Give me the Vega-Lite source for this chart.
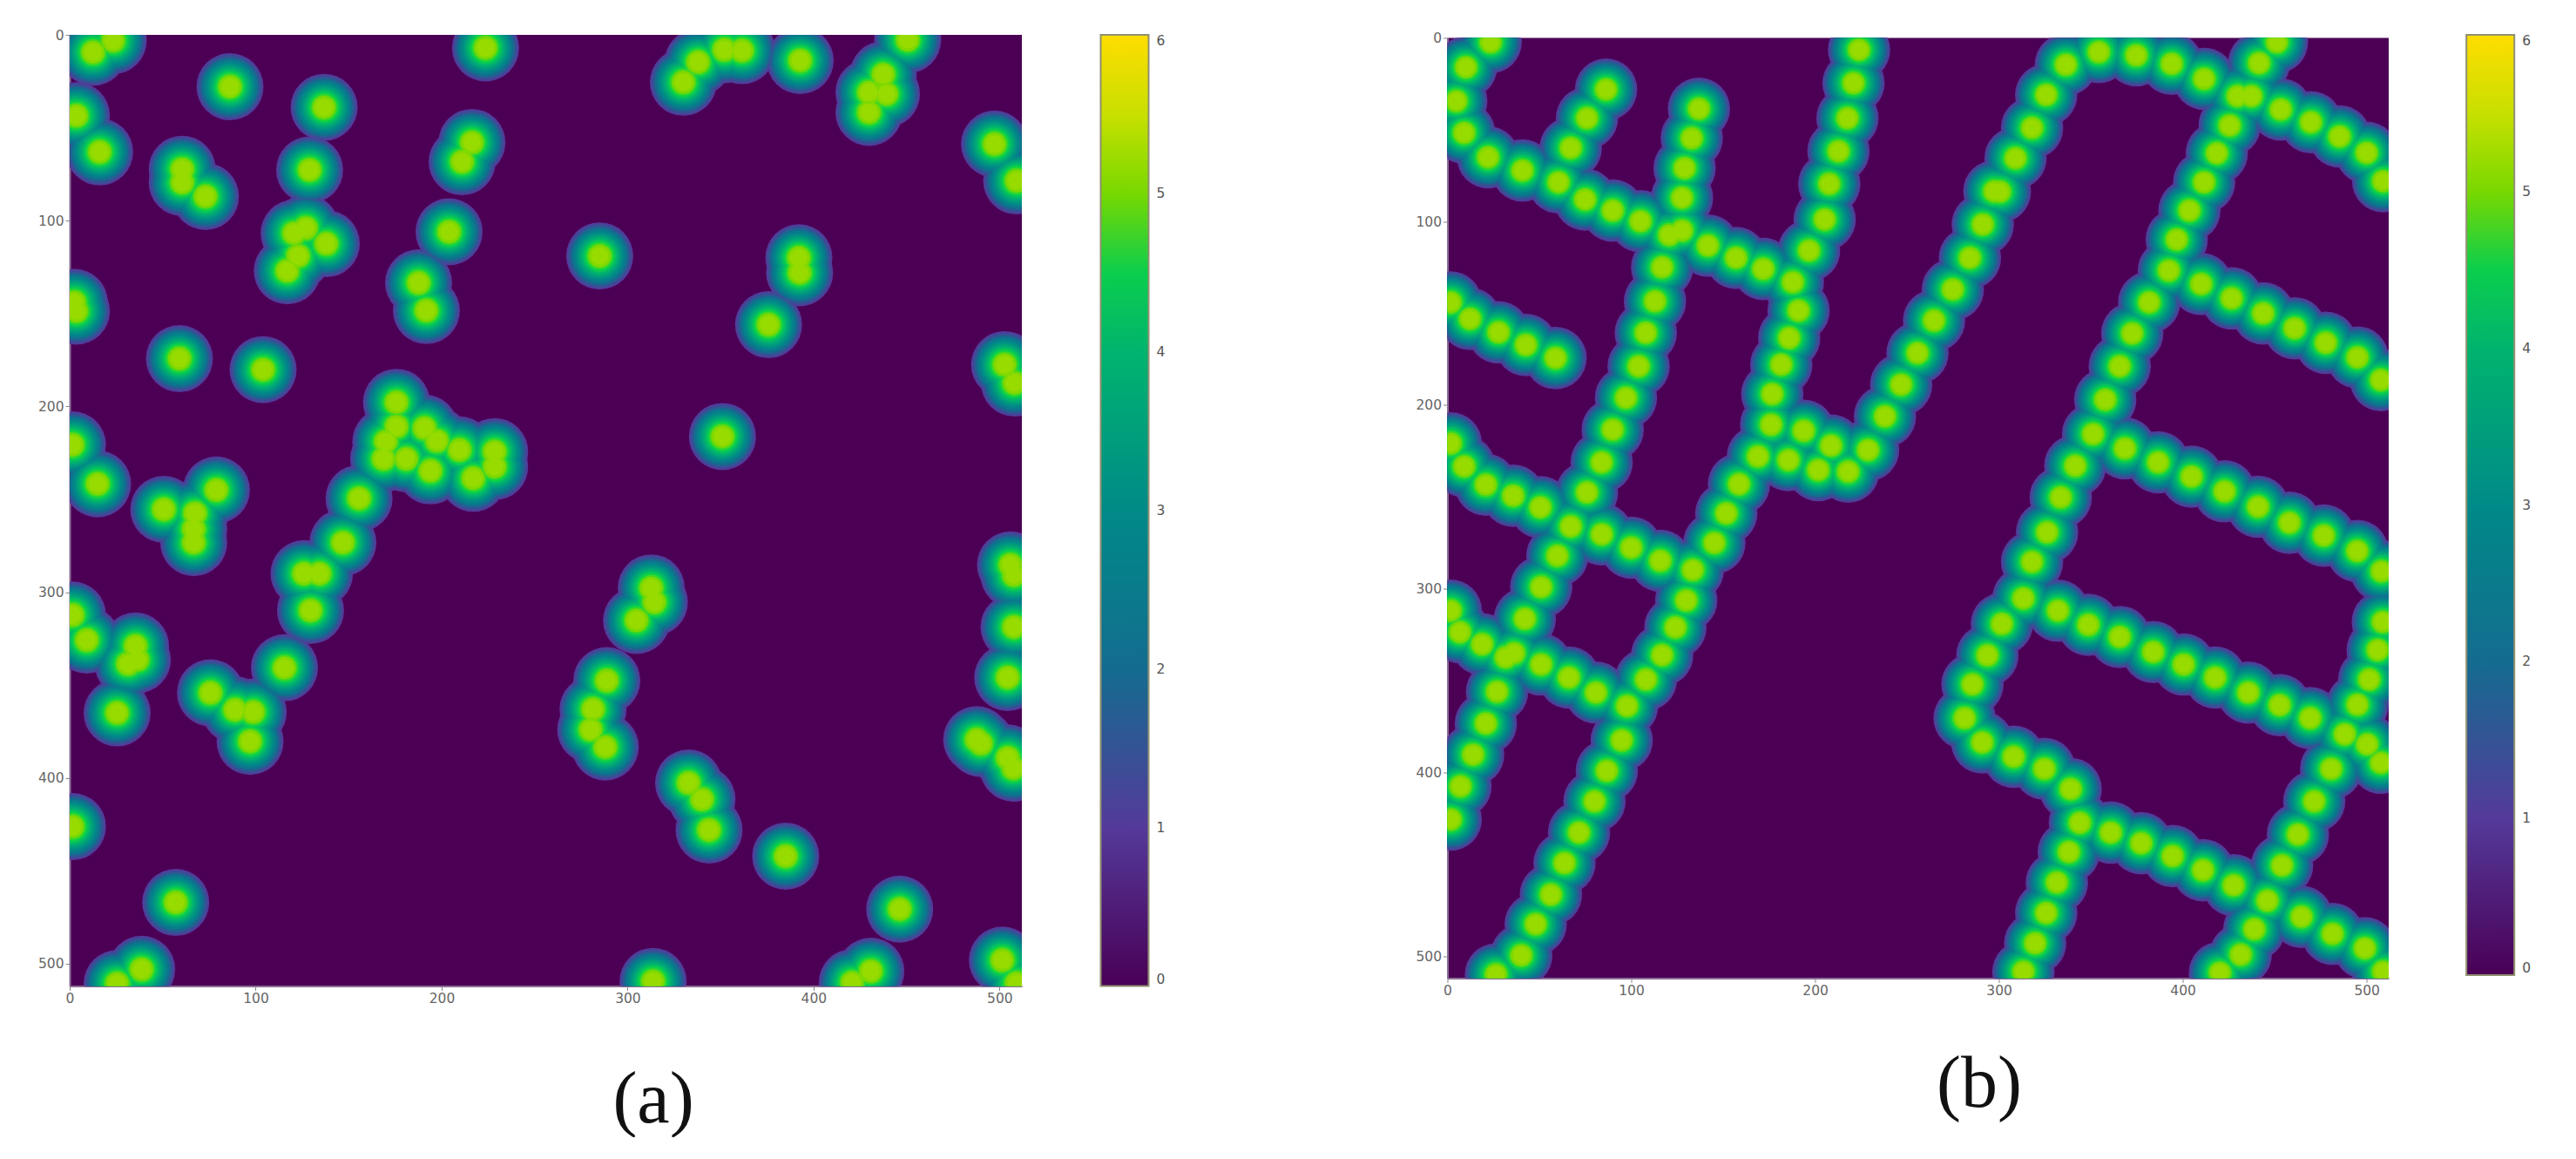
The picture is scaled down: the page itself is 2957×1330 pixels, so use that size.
{"$schema":"https://vega.github.io/schema/vega-lite/v6.json","background":"white","padding":{"left":43,"top":33,"right":0,"bottom":0},"bounds":"flush","spacing":488.5,
"datasets":{
"a":[{"x":12.6,"y":9.4},{"x":23.4,"y":3.1},{"x":86.2,"y":27.9},{"x":136.8,"y":39},{"x":223.6,"y":7},{"x":3.6,"y":43.5},{"x":16.1,"y":63},{"x":60.5,"y":72.3},{"x":60.5,"y":79.5},{"x":73,"y":87},{"x":129,"y":72.7},{"x":216.3,"y":57.9},{"x":211,"y":68.3},{"x":204,"y":106},{"x":127,"y":104},{"x":120.7,"y":106.8},{"x":138,"y":112.4},{"x":122.8,"y":119},{"x":117,"y":127},{"x":187.6,"y":133.5},{"x":191.8,"y":148.4},{"x":285,"y":119},{"x":3.6,"y":148.7},{"x":2.5,"y":144},{"x":59,"y":174.3},{"x":104,"y":180.2},{"x":175.7,"y":197.8},{"x":175.7,"y":210.8},{"x":170,"y":218.9},{"x":168.8,"y":228.2},{"x":181,"y":228.2},{"x":190.8,"y":211.7},{"x":197.5,"y":218.5},{"x":209.6,"y":223.4},{"x":194,"y":234.7},{"x":217,"y":238.7},{"x":228.5,"y":224.3},{"x":228.5,"y":232.4},{"x":1.5,"y":220.7},{"x":15,"y":241.7},{"x":155.6,"y":249.5},{"x":50.6,"y":255.4},{"x":78.9,"y":245},{"x":67.4,"y":257.5},{"x":66.7,"y":266},{"x":66.7,"y":273.3},{"x":146.9,"y":273.3},{"x":126,"y":290},{"x":134.3,"y":290},{"x":129.5,"y":309.8},{"x":1.5,"y":312.3},{"x":9.2,"y":325.8},{"x":35.4,"y":329},{"x":36.4,"y":336.3},{"x":31.4,"y":338.6},{"x":115.5,"y":340.7},{"x":75.7,"y":354.2},{"x":88.9,"y":363.3},{"x":98.7,"y":364.5},{"x":97,"y":380.3},{"x":25.5,"y":365},{"x":1.5,"y":426.2},{"x":57,"y":467},{"x":25.5,"y":510.7},{"x":38.7,"y":503},{"x":330,"y":25.5},{"x":337.9,"y":14.7},{"x":352,"y":8},{"x":361.5,"y":8.5},{"x":392.8,"y":13.8},{"x":450.6,"y":2.7},{"x":437.5,"y":21.4},{"x":439.2,"y":31.8},{"x":429.8,"y":31},{"x":429.8,"y":41.7},{"x":497.3,"y":58.8},{"x":509.2,"y":78.6},{"x":392.1,"y":120},{"x":392.5,"y":128},{"x":375.8,"y":156},{"x":502.7,"y":177.5},{"x":508,"y":187.4},{"x":351,"y":216.2},{"x":505.9,"y":285.3},{"x":507.8,"y":290.8},{"x":507.8,"y":318.7},{"x":504.4,"y":345.9},{"x":312.7,"y":297.7},{"x":314.4,"y":305.4},{"x":304.8,"y":315.2},{"x":288.8,"y":347.6},{"x":281.4,"y":363},{"x":280.2,"y":374},{"x":288,"y":383.3},{"x":487.7,"y":379.4},{"x":490,"y":381.5},{"x":504.4,"y":389.2},{"x":507.5,"y":394.7},{"x":332.8,"y":402.7},{"x":340,"y":411.5},{"x":343.8,"y":428},{"x":385,"y":442.1},{"x":446.3,"y":470.6},{"x":430.8,"y":504},{"x":420.8,"y":510.2},{"x":501.5,"y":498.1},{"x":509.2,"y":510.5},{"x":313.7,"y":509.5}],
"b":[{"x":23.5,"y":2.3},{"x":10.1,"y":16},{"x":4.8,"y":34.4},{"x":9.1,"y":51.7},{"x":22.1,"y":65},{"x":40.8,"y":72.2},{"x":60.4,"y":78.6},{"x":74.9,"y":88},{"x":89.9,"y":94},{"x":105,"y":99.8},{"x":120.7,"y":107.3},{"x":127.6,"y":104.9},{"x":141.7,"y":113.1},{"x":157,"y":119.8},{"x":171.8,"y":125.8},{"x":187.9,"y":133},{"x":67.1,"y":59.9},{"x":75.9,"y":43.7},{"x":86.3,"y":28.1},{"x":136.8,"y":38.6},{"x":132.9,"y":54.6},{"x":129,"y":70.9},{"x":127.6,"y":87.1},{"x":116.8,"y":124.9},{"x":112.9,"y":143.4},{"x":107.9,"y":160.6},{"x":104,"y":178.8},{"x":97.1,"y":196},{"x":89.9,"y":213.3},{"x":83.9,"y":231.1},{"x":75.9,"y":247.5},{"x":67.1,"y":266},{"x":223.9,"y":6.5},{"x":220.9,"y":24.6},{"x":217.6,"y":43.7},{"x":212.7,"y":61.7},{"x":207.7,"y":79.5},{"x":205.2,"y":98.9},{"x":196.7,"y":115.8},{"x":191,"y":148.5},{"x":185.9,"y":163.4},{"x":181.6,"y":177.9},{"x":176.7,"y":193.9},{"x":176.1,"y":210.6},{"x":193.8,"y":213.9},{"x":208.7,"y":222},{"x":228.8,"y":224.4},{"x":238,"y":206.1},{"x":246.8,"y":188.8},{"x":255.7,"y":171.6},{"x":264.7,"y":153.9},{"x":274.9,"y":137},{"x":284.2,"y":119.8},{"x":291.2,"y":101.6},{"x":297.5,"y":83.5},{"x":1.8,"y":144},{"x":12.3,"y":153},{"x":27.8,"y":160.3},{"x":42.7,"y":167.2},{"x":58.8,"y":174.3},{"x":1.8,"y":220.8},{"x":9.1,"y":233.3},{"x":20.9,"y":243.3},{"x":35.8,"y":249.3},{"x":50.6,"y":255.6},{"x":168.9,"y":227.9},{"x":185.5,"y":229.9},{"x":201.7,"y":235.3},{"x":218,"y":236.2},{"x":158.6,"y":243},{"x":151.7,"y":258.9},{"x":84,"y":270.3},{"x":100,"y":277.6},{"x":115.8,"y":284.7},{"x":133.5,"y":289.7},{"x":145.2,"y":275},{"x":59.8,"y":282},{"x":51,"y":299},{"x":42.1,"y":316.3},{"x":1.8,"y":311.9},{"x":6.8,"y":323.6},{"x":18.9,"y":330.2},{"x":31.7,"y":337.3},{"x":36.2,"y":335},{"x":51,"y":341.2},{"x":66.1,"y":348.3},{"x":80.8,"y":356.5},{"x":97.7,"y":363.8},{"x":108,"y":349.4},{"x":116.8,"y":336.1},{"x":124,"y":321},{"x":129.9,"y":306.3},{"x":94.8,"y":382.5},{"x":86.7,"y":399.1},{"x":80,"y":415.7},{"x":71.6,"y":432.7},{"x":63.7,"y":449.3},{"x":56.3,"y":466.5},{"x":48,"y":482.6},{"x":40.2,"y":499.6},{"x":26.4,"y":510},{"x":27,"y":356},{"x":20.9,"y":373.3},{"x":14,"y":390.3},{"x":7.1,"y":407.5},{"x":1.8,"y":425.6},{"x":336.4,"y":14.6},{"x":354.3,"y":7.7},{"x":374.7,"y":9.5},{"x":394,"y":14.1},{"x":411.6,"y":22.3},{"x":429.8,"y":31.7},{"x":437.3,"y":31.7},{"x":441.5,"y":13.7},{"x":451.2,"y":2.3},{"x":453.3,"y":39},{"x":469.7,"y":45.9},{"x":485.3,"y":53.7},{"x":500,"y":62.6},{"x":509,"y":78},{"x":325.7,"y":31},{"x":318,"y":49},{"x":309,"y":65.5},{"x":300.5,"y":83.7},{"x":425.5,"y":47.7},{"x":418.5,"y":62.8},{"x":411.6,"y":78.6},{"x":403.6,"y":94},{"x":396.7,"y":109.8},{"x":392.4,"y":126.7},{"x":381.7,"y":144},{"x":372.5,"y":160.9},{"x":365.7,"y":178.8},{"x":357.8,"y":197},{"x":351.2,"y":215.7},{"x":341.5,"y":233},{"x":333.6,"y":250.2},{"x":410,"y":134},{"x":426.6,"y":141.8},{"x":443.7,"y":150},{"x":460.8,"y":158.1},{"x":477.8,"y":166},{"x":495,"y":174},{"x":507.8,"y":186.3},{"x":368.5,"y":223.5},{"x":386.6,"y":231.1},{"x":404.8,"y":238.9},{"x":422.7,"y":246.9},{"x":440.9,"y":255.3},{"x":458,"y":264},{"x":476.7,"y":271},{"x":494.9,"y":279.4},{"x":508.2,"y":290.4},{"x":326.2,"y":269.2},{"x":318,"y":285.3},{"x":313.3,"y":305.2},{"x":301.6,"y":319.1},{"x":293.7,"y":336.2},{"x":285.6,"y":352},{"x":281.3,"y":370.4},{"x":290.9,"y":383.6},{"x":308,"y":391.4},{"x":324.7,"y":398},{"x":339,"y":409},{"x":344,"y":427.4},{"x":360.8,"y":432.7},{"x":377.4,"y":438.5},{"x":394.5,"y":445.5},{"x":411,"y":453.2},{"x":427.7,"y":461.4},{"x":446,"y":469.8},{"x":464.6,"y":478.6},{"x":481.5,"y":487.9},{"x":499,"y":495.7},{"x":509,"y":508.5},{"x":438.9,"y":485.3},{"x":431.5,"y":499.2},{"x":420.2,"y":509.1},{"x":454,"y":450.6},{"x":462.6,"y":433.8},{"x":471.5,"y":415.7},{"x":480.7,"y":398},{"x":338,"y":443.3},{"x":331.5,"y":459.9},{"x":325.7,"y":476.5},{"x":319.7,"y":493},{"x":313.3,"y":508.5},{"x":332.1,"y":311.9},{"x":348.6,"y":319.6},{"x":365.7,"y":326.2},{"x":383.9,"y":334.4},{"x":400.5,"y":341.2},{"x":417.6,"y":348.3},{"x":435.6,"y":356.5},{"x":452.7,"y":363.3},{"x":469.3,"y":370.4},{"x":488.1,"y":379.2},{"x":500.3,"y":384.7},{"x":507.8,"y":394.7},{"x":495,"y":363.1},{"x":501.4,"y":349.4},{"x":506,"y":333.3},{"x":508.8,"y":318}]
},
"resolve":{"scale":{"color":"independent"},"legend":{"color":"independent"}},
"hconcat":[
{"width":1093,"height":1091.5,"view":{"fill":"#4b0055","stroke":null},"data":{"name":"a"},
"encoding":{
"x":{"field":"x","type":"quantitative","scale":{"domain":[0,512],"nice":false,"zero":false},"axis":{"orient":"bottom","values":[0,100,200,300,400,500],"grid":false,"title":"(a)","titleFont":"Liberation Serif","titleFontSize":84,"titleFontWeight":"normal","titleColor":"#111","titleX":669.5,"titleY":156,"titleAlign":"center","titleBaseline":"alphabetic","labelFont":"DejaVu Sans","labelFontSize":15.5,"labelColor":"#666","tickColor":"#888","tickSize":5,"domainColor":"#8a6f96","domainWidth":2,"labelFlush":false}},
"y":{"field":"y","type":"quantitative","scale":{"domain":[512,0],"nice":false,"zero":false},"axis":{"values":[0,100,200,300,400,500],"grid":false,"title":null,"labelFont":"DejaVu Sans","labelFontSize":15.5,"labelColor":"#666","tickColor":"#888","tickSize":5,"domainColor":"#8a6f96","domainWidth":2,"labelFlush":false}}},
"layer":[
{"mark":{"type":"point","filled":true,"opacity":1,"clip":true,"size":5929},"encoding":{"color":{"datum":1.0,"type":"quantitative","scale":{"interpolate":"rgb","domain":[0,1,2,3,4,4.7,5,5.5,6],"range":["#4a0056","#543a9a","#146c90","#008a88","#00b46e","#10d840","#78d800","#c8e000","#ffdd00"]},"legend":{"title":null,"format":"d","orient":"none","legendX":1183.5,"legendY":0,"gradientLength":1091.5,"gradientThickness":55,"values":[0,1,2,3,4,5,6],"labelFont":"DejaVu Sans","labelFontSize":15.5,"labelColor":"#555","labelOffset":9,"padding":0,"gradientStrokeColor":"#8f8f70","gradientStrokeWidth":2,"labelOverlap":false}}}},
{"mark":{"type":"point","filled":true,"opacity":1,"clip":true,"size":5476},"encoding":{"color":{"datum":1.3,"type":"quantitative"}}},
{"mark":{"type":"point","filled":true,"opacity":1,"clip":true,"size":4900},"encoding":{"color":{"datum":1.6,"type":"quantitative"}}},
{"mark":{"type":"point","filled":true,"opacity":1,"clip":true,"size":4356},"encoding":{"color":{"datum":2.0,"type":"quantitative"}}},
{"mark":{"type":"point","filled":true,"opacity":1,"clip":true,"size":3844},"encoding":{"color":{"datum":2.4,"type":"quantitative"}}},
{"mark":{"type":"point","filled":true,"opacity":1,"clip":true,"size":3364},"encoding":{"color":{"datum":2.8,"type":"quantitative"}}},
{"mark":{"type":"point","filled":true,"opacity":1,"clip":true,"size":2916},"encoding":{"color":{"datum":3.1,"type":"quantitative"}}},
{"mark":{"type":"point","filled":true,"opacity":1,"clip":true,"size":2500},"encoding":{"color":{"datum":3.4,"type":"quantitative"}}},
{"mark":{"type":"point","filled":true,"opacity":1,"clip":true,"size":2116},"encoding":{"color":{"datum":3.7,"type":"quantitative"}}},
{"mark":{"type":"point","filled":true,"opacity":1,"clip":true,"size":1764},"encoding":{"color":{"datum":4.0,"type":"quantitative"}}},
{"mark":{"type":"point","filled":true,"opacity":1,"clip":true,"size":1444},"encoding":{"color":{"datum":4.3,"type":"quantitative"}}},
{"mark":{"type":"point","filled":true,"opacity":1,"clip":true,"size":1156},"encoding":{"color":{"datum":4.6,"type":"quantitative"}}},
{"mark":{"type":"point","filled":true,"opacity":1,"clip":true,"size":900},"encoding":{"color":{"datum":4.85,"type":"quantitative"}}},
{"mark":{"type":"point","filled":true,"opacity":1,"clip":true,"size":676},"encoding":{"color":{"datum":5.05,"type":"quantitative"}}},
{"mark":{"type":"point","filled":true,"opacity":1,"clip":true,"size":400},"encoding":{"color":{"datum":5.2,"type":"quantitative"}}}
]},
{"bounds":"flush","spacing":2.5,"vconcat":[
{"width":1080.5,"height":1,"view":{"stroke":null},"data":{"values":[]},"mark":{"type":"rect"}},
{"width":1080.5,"height":1079,"view":{"fill":"#4b0055","stroke":null},"data":{"name":"b"},
"encoding":{
"x":{"field":"x","type":"quantitative","scale":{"domain":[0,512],"nice":false,"zero":false},"axis":{"orient":"bottom","values":[0,100,200,300,400,500],"grid":false,"title":"(b)","titleFont":"Liberation Serif","titleFontSize":84,"titleFontWeight":"normal","titleColor":"#111","titleX":610,"titleY":147,"titleAlign":"center","titleBaseline":"alphabetic","labelFont":"DejaVu Sans","labelFontSize":15.5,"labelColor":"#666","tickColor":"#888","tickSize":5,"domainColor":"#8a6f96","domainWidth":2,"labelFlush":false}},
"y":{"field":"y","type":"quantitative","scale":{"domain":[512,0],"nice":false,"zero":false},"axis":{"values":[0,100,200,300,400,500],"grid":false,"title":null,"labelFont":"DejaVu Sans","labelFontSize":15.5,"labelColor":"#666","tickColor":"#888","tickSize":5,"domainColor":"#8a6f96","domainWidth":2,"labelFlush":false}}},
"layer":[
{"mark":{"type":"point","filled":true,"opacity":1,"clip":true,"size":5127},"encoding":{"color":{"datum":1.0,"type":"quantitative","scale":{"interpolate":"rgb","domain":[0,1,2,3,4,4.7,5,5.5,6],"range":["#4a0056","#543a9a","#146c90","#008a88","#00b46e","#10d840","#78d800","#c8e000","#ffdd00"]},"legend":{"title":null,"format":"d","orient":"none","legendX":1169.7,"legendY":0,"gradientLength":1079,"gradientThickness":55,"values":[0,1,2,3,4,5,6],"labelFont":"DejaVu Sans","labelFontSize":15.5,"labelColor":"#555","labelOffset":9,"padding":0,"gradientStrokeColor":"#8f8f70","gradientStrokeWidth":2,"labelOverlap":false}}}},
{"mark":{"type":"point","filled":true,"opacity":1,"clip":true,"size":4733},"encoding":{"color":{"datum":1.3,"type":"quantitative"}}},
{"mark":{"type":"point","filled":true,"opacity":1,"clip":true,"size":4251},"encoding":{"color":{"datum":1.6,"type":"quantitative"}}},
{"mark":{"type":"point","filled":true,"opacity":1,"clip":true,"size":3770},"encoding":{"color":{"datum":2.0,"type":"quantitative"}}},
{"mark":{"type":"point","filled":true,"opacity":1,"clip":true,"size":3318},"encoding":{"color":{"datum":2.4,"type":"quantitative"}}},
{"mark":{"type":"point","filled":true,"opacity":1,"clip":true,"size":2916},"encoding":{"color":{"datum":2.8,"type":"quantitative"}}},
{"mark":{"type":"point","filled":true,"opacity":1,"clip":true,"size":2520},"encoding":{"color":{"datum":3.1,"type":"quantitative"}}},
{"mark":{"type":"point","filled":true,"opacity":1,"clip":true,"size":2172},"encoding":{"color":{"datum":3.4,"type":"quantitative"}}},
{"mark":{"type":"point","filled":true,"opacity":1,"clip":true,"size":1832},"encoding":{"color":{"datum":3.7,"type":"quantitative"}}},
{"mark":{"type":"point","filled":true,"opacity":1,"clip":true,"size":1521},"encoding":{"color":{"datum":4.0,"type":"quantitative"}}},
{"mark":{"type":"point","filled":true,"opacity":1,"clip":true,"size":1253},"encoding":{"color":{"datum":4.3,"type":"quantitative"}}},
{"mark":{"type":"point","filled":true,"opacity":1,"clip":true,"size":999},"encoding":{"color":{"datum":4.6,"type":"quantitative"}}},
{"mark":{"type":"point","filled":true,"opacity":1,"clip":true,"size":784},"encoding":{"color":{"datum":4.85,"type":"quantitative"}}},
{"mark":{"type":"point","filled":true,"opacity":1,"clip":true,"size":586},"encoding":{"color":{"datum":5.05,"type":"quantitative"}}},
{"mark":{"type":"point","filled":true,"opacity":1,"clip":true,"size":346},"encoding":{"color":{"datum":5.2,"type":"quantitative"}}}
]}
]}
]}
